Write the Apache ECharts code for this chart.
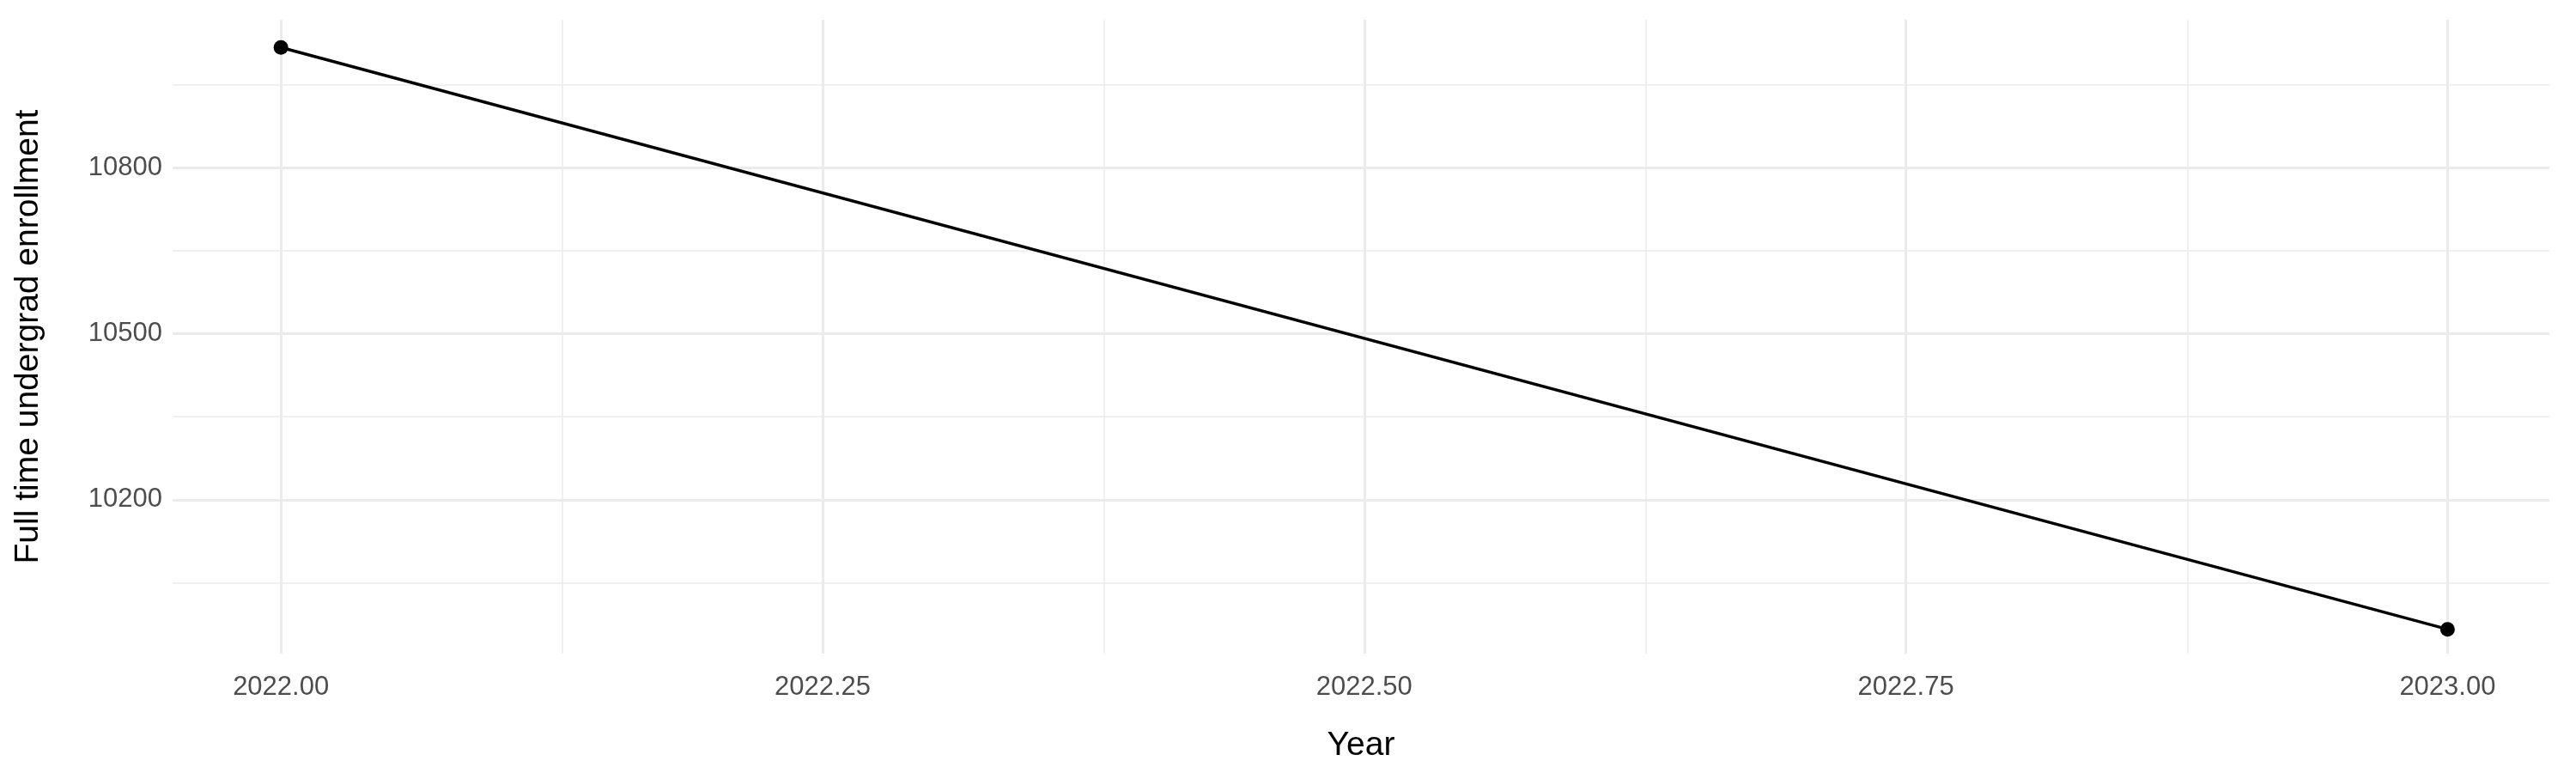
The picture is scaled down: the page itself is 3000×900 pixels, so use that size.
<!DOCTYPE html>
<html>
<head>
<meta charset="utf-8">
<script src="https://cdn.jsdelivr.net/npm/echarts@6/dist/echarts.min.js"></script>
<style>html,body{margin:0;padding:0;background:#fff}#chart{width:3000px;height:900px}</style>
</head>
<body>
<div id="chart"></div>
<script>
// data
const years = [2022, 2023];
const enrollment = [11017, 9966];
const xMajor = [2022, 2022.25, 2022.5, 2022.75, 2023];
const xMinor = [2022.125, 2022.375, 2022.625, 2022.875];
const yMajor = [10200, 10500, 10800];
const yMinor = [10050, 10350, 10650, 10950];

const chart = echarts.init(document.getElementById('chart'));
const font = 'Liberation Sans, Arial, sans-serif';

const lineStyleOf = w => ({ color: '#ebebeb', width: w, type: 'solid' });
const gridLines = [];
xMinor.forEach(v => gridLines.push({ xAxis: v, lineStyle: lineStyleOf(1.5), label: { show: false } }));
yMinor.forEach(v => gridLines.push({ yAxis: v, lineStyle: lineStyleOf(1.5), label: { show: false } }));
xMajor.forEach(v => gridLines.push({
  xAxis: v, lineStyle: lineStyleOf(3),
  label: { show: true, position: 'start', formatter: v.toFixed(2), color: '#4d4d4d', fontSize: 31, fontFamily: font, distance: 24 }
}));
yMajor.forEach(v => gridLines.push({
  yAxis: v, lineStyle: lineStyleOf(3),
  label: { show: true, position: 'start', formatter: String(v), color: '#4d4d4d', fontSize: 31, fontFamily: font, distance: 12 }
}));

const options = {
  animation: false,
  grid: { left: 201, right: 31, top: 23, bottom: 139 },
  xAxis: {
    type: 'value', min: 2021.95, max: 2023.047,
    name: 'Year', nameLocation: 'middle', nameGap: 88,
    nameTextStyle: { color: '#000', fontSize: 39, fontFamily: font },
    axisLine: { show: false }, axisTick: { show: false }, axisLabel: { show: false }, splitLine: { show: false }
  },
  yAxis: {
    type: 'value', min: 9922, max: 11067,
    name: 'Full time undergrad enrollment', nameLocation: 'middle', nameGap: 148,
    nameTextStyle: { color: '#000', fontSize: 39, fontFamily: font },
    axisLine: { show: false }, axisTick: { show: false }, axisLabel: { show: false }, splitLine: { show: false }
  },
  series: [
    {
      type: 'line',
      data: years.map((y, i) => [y, enrollment[i]]),
      symbol: 'circle', symbolSize: 17,
      lineStyle: { color: '#000', width: 3.5 },
      itemStyle: { color: '#000' },
      z: 5,
      markLine: { silent: true, symbol: 'none', data: gridLines, z: 1 }
    }
  ]
};
chart.setOption(options);
</script>
</body>
</html>
